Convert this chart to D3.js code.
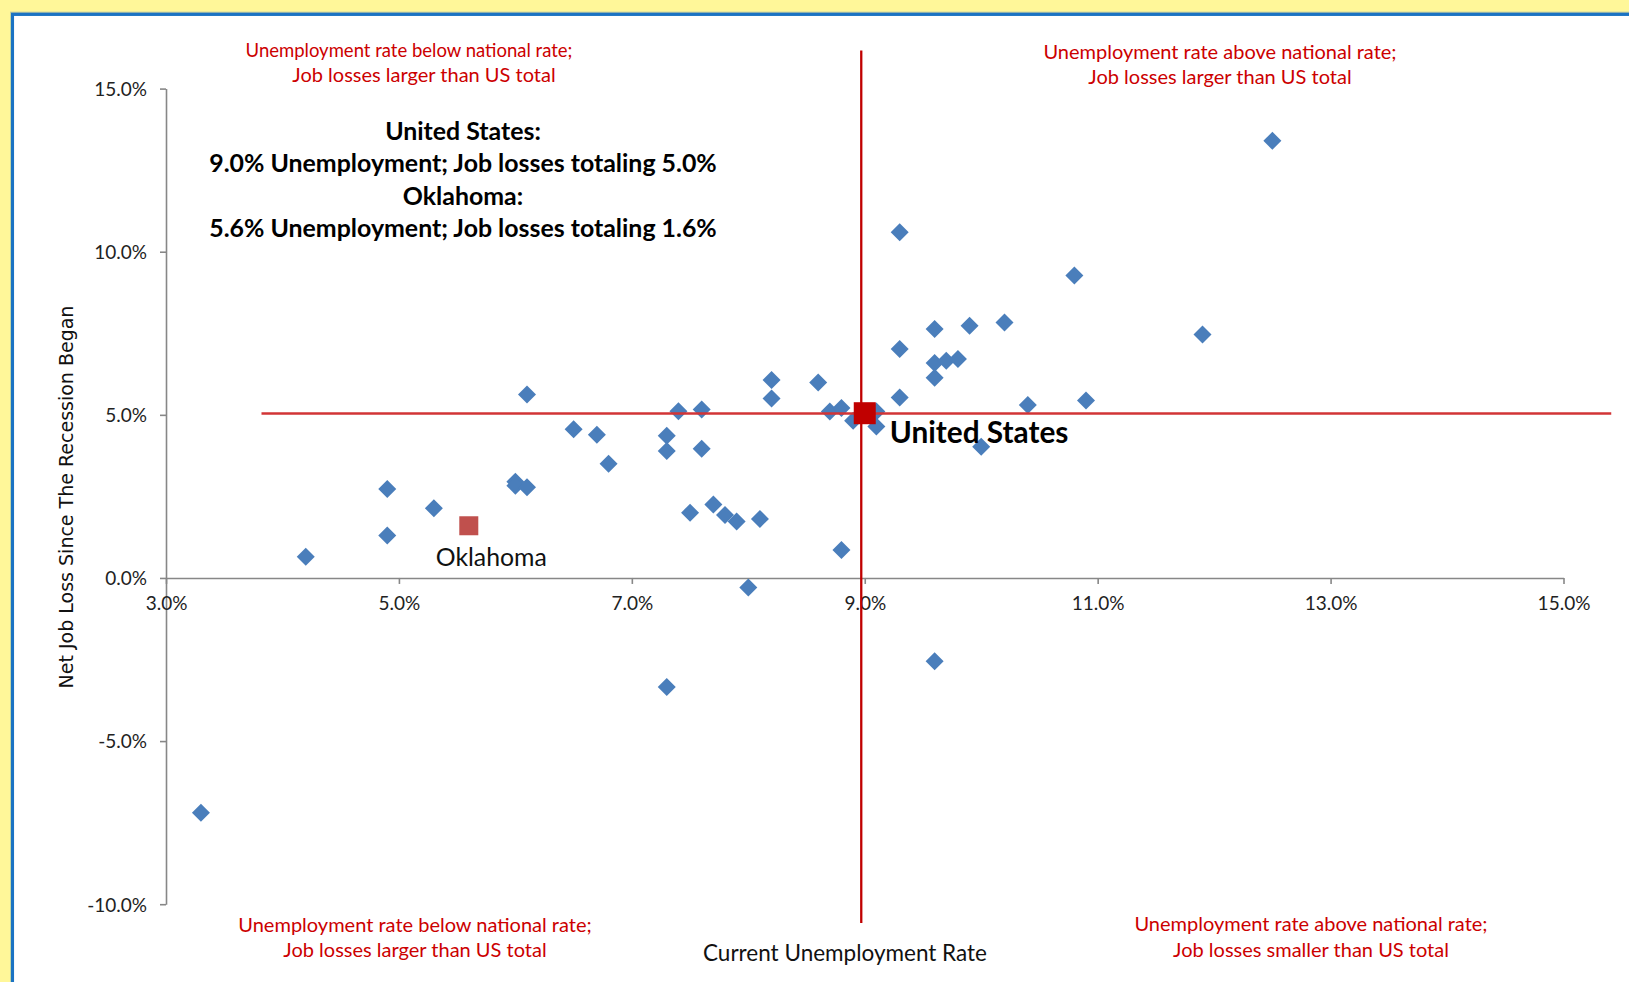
<!DOCTYPE html>
<html>
<head>
<meta charset="utf-8">
<script src="https://cdn.jsdelivr.net/npm/d3@7"></script>
<style>
  html, body { margin: 0; padding: 0; background: #FFF799; }
  svg { display: block; }
</style>
</head>
<body>
<svg id="chart" width="1629" height="982"></svg>
<script>
// ---------------- DATA ----------------
// Current unemployment rate (%) for each state
const unemploymentRate = [
  3.3, 4.2, 4.9, 4.9, 5.3, 6.0, 6.0, 6.1, 6.1, 6.5,
  6.7, 6.8, 7.3, 7.3, 7.3, 7.4, 7.5, 7.6, 7.6, 7.7,
  7.8, 7.9, 8.0, 8.1, 8.2, 8.2, 8.6, 8.7, 8.8, 8.8,
  8.9, 9.1, 9.1, 9.3, 9.3, 9.3, 9.6, 9.6, 9.6, 9.6,
  9.7, 9.8, 9.9, 10.0, 10.2, 10.4, 10.8, 10.9, 11.9, 12.5
];
// Net job loss since the recession began (%) for each state
const netJobLoss = [
  -7.2, 0.65, 2.73, 1.30, 2.14, 2.95, 2.83, 2.78, 5.62, 4.56,
  4.39, 3.50, 4.36, 3.89, -3.34, 5.11, 2.00, 5.16, 3.96, 2.25,
  1.93, 1.73, -0.29, 1.81, 6.07, 5.50, 5.99, 5.10, 5.21, 0.86,
  4.82, 5.10, 4.64, 10.6, 7.02, 5.53, 7.63, 6.59, 6.14, -2.55,
  6.66, 6.71, 7.73, 4.02, 7.83, 5.30, 9.27, 5.44, 7.46, 13.4
];
const unitedStates = { rate: 9.0, loss: 5.05, label: "United States" };
const oklahoma = { rate: 5.6, loss: 1.6, label: "Oklahoma" };

// reference lines (national values)
const verticalLine = [ { x: 8.97, y: 16.17 }, { x: 8.97, y: -10.58 } ];
const horizontalLine = [ { x: 3.82, y: 5.04 }, { x: 15.41, y: 5.04 } ];

const xTicks = [3, 5, 7, 9, 11, 13, 15];
const yTicks = [-10, -5, 0, 5, 10, 15];

const xTitle = "Current Unemployment Rate";
const yTitle = "Net Job Loss Since The Recession Began";
const infoLines = [
  "United States:",
  "9.0% Unemployment; Job losses totaling 5.0%",
  "Oklahoma:",
  "5.6% Unemployment; Job losses totaling 1.6%"
];
const quadrantNotes = [
  { lines: ["Unemployment rate below national rate;", "Job losses larger than US total"], pos: "tl" },
  { lines: ["Unemployment rate above national rate;", "Job losses larger than US total"], pos: "tr" },
  { lines: ["Unemployment rate below national rate;", "Job losses larger than US total"], pos: "bl" },
  { lines: ["Unemployment rate above national rate;", "Job losses smaller than US total"], pos: "br" }
];

// ---------------- DRAW ----------------
const svg = d3.select("#chart");
const calibri = "Lato, 'Open Sans', sans-serif";

// frame
svg.append("rect").attr("x", 0).attr("y", 0).attr("width", 1629).attr("height", 982).attr("fill", "#FFF799");
svg.append("line").attr("x1", 10).attr("x2", 1629).attr("y1", 12.2).attr("y2", 12.2)
  .attr("stroke", "#B9C4A6").attr("stroke-width", 1);
svg.append("rect").attr("x", 12.4).attr("y", 14.3).attr("width", 1700).attr("height", 1100)
  .attr("fill", "#ffffff").attr("stroke", "#1B73C3").attr("stroke-width", 3.3);

const x = d3.scaleLinear().domain([3, 15]).range([166, 1563.5]);
const y = d3.scaleLinear().domain([-10, 15]).range([904.2, 88.6]);

const fmt = d => d.toFixed(1) + "%";

// Y axis
const yAxis = svg.append("g").attr("transform", `translate(${x(3)},0)`)
  .call(d3.axisLeft(y).tickValues(yTicks).tickFormat(fmt).tickSize(6).tickPadding(13).tickSizeOuter(0));
// X axis
const xAxis = svg.append("g").attr("transform", `translate(0,${y(0)})`)
  .call(d3.axisBottom(x).tickValues(xTicks).tickFormat(fmt).tickSize(6).tickPadding(13).tickSizeOuter(0));

[xAxis, yAxis].forEach(a => {
  a.select(".domain").attr("stroke", "#878787").attr("stroke-width", 1.6);
  a.selectAll(".tick line").attr("stroke", "#878787").attr("stroke-width", 1.6);
  a.selectAll(".tick text").attr("fill", "#222").style("font-family", calibri).style("font-size", "19px");
});
xAxis.selectAll(".tick text").attr("dy", "0.71em");
yAxis.selectAll(".tick text").attr("dy", "0.36em");

// diamonds
const pts = unemploymentRate.map((r, i) => ({ r, l: netJobLoss[i] }));
const diamond = d3.symbol(d3.symbolSquare, 162);
svg.append("g").selectAll("path").data(pts).join("path")
  .attr("d", diamond)
  .attr("transform", d => `translate(${x(d.r)},${y(d.l)}) rotate(45)`)
  .attr("fill", "#4A7EBB");

// national reference lines
const line = d3.line().x(d => x(d.x)).y(d => y(d.y));
svg.append("path").datum(horizontalLine).attr("d", line)
  .attr("stroke", "#D23436").attr("stroke-width", 2.6).attr("fill", "none");
svg.append("path").datum(verticalLine).attr("d", line)
  .attr("stroke", "#C00000").attr("stroke-width", 2.3).attr("fill", "none");

// US & Oklahoma markers
const usSize = 22, okSize = 19;
svg.append("rect")
  .attr("x", x(unitedStates.rate) - usSize / 2).attr("y", y(unitedStates.loss) - usSize / 2)
  .attr("width", usSize).attr("height", usSize).attr("fill", "#C00000");
svg.append("rect")
  .attr("x", x(oklahoma.rate) - okSize / 2).attr("y", y(oklahoma.loss) - okSize / 2)
  .attr("width", okSize).attr("height", okSize).attr("fill", "#C0504D");

// point labels
svg.append("text").attr("x", x(unitedStates.rate) + 25).attr("y", y(unitedStates.loss) + 30)
  .text(unitedStates.label).attr("fill", "#000")
  .style("font-family", calibri).style("font-weight", "bold").style("font-size", "29.8px");
svg.append("text").attr("x", x(oklahoma.rate) - 33).attr("y", y(oklahoma.loss) + 40)
  .text(oklahoma.label).attr("fill", "#111")
  .style("font-family", calibri).style("font-size", "24.8px");

// info block
svg.append("g").selectAll("text").data(infoLines).join("text")
  .attr("x", 463).attr("y", (d, i) => 139.5 + i * 32.6)
  .attr("text-anchor", "middle").text(d => d).attr("fill", "#000")
  .style("font-family", calibri).style("font-weight", "bold").style("font-size", "24.9px");

// quadrant notes
const notePos = {
  tl: { cx: [409, 424], y: [57, 82], size: [18.5, 20] },
  tr: { cx: [1220, 1220], y: [59, 84], size: [20, 20] },
  bl: { cx: [415, 415], y: [932, 957], size: [20, 20] },
  br: { cx: [1311, 1311], y: [931, 956.5], size: [20, 20] }
};
quadrantNotes.forEach(n => {
  const p = notePos[n.pos];
  n.lines.forEach((t, i) => {
    svg.append("text").attr("x", p.cx[i]).attr("y", p.y[i]).attr("text-anchor", "middle")
      .text(t).attr("fill", "#CC0000")
      .style("font-family", calibri).style("font-size", p.size[i] + "px");
  });
});

// axis titles
svg.append("text").attr("x", 845).attr("y", 961).attr("text-anchor", "middle")
  .text(xTitle).attr("fill", "#111")
  .style("font-family", calibri).style("font-size", "22.5px");
svg.append("text").attr("transform", "translate(73,497) rotate(-90)").attr("text-anchor", "middle")
  .text(yTitle).attr("fill", "#111")
  .style("font-family", "'DejaVu Sans', Verdana, sans-serif").style("font-size", "19px");
</script>
</body>
</html>
